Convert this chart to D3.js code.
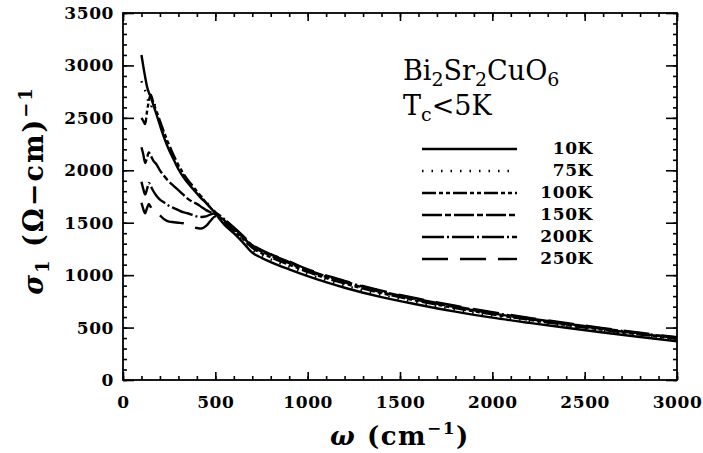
<!DOCTYPE html>
<html lang="en">
  <head>
    <meta charset="utf-8" />
    <title>Bi2Sr2CuO6 optical conductivity</title>
    <script src="https://cdn.jsdelivr.net/npm/d3@7"></script>
    <style>
      body {
        margin: 0;
        background: #fff;
      }

      svg {
        display: block;
      }

      .axis text,
      .legend text {
        font-family: "DejaVu Serif", serif;
        font-weight: bold;
        font-size: 17px;
        letter-spacing: 0.6px;
        fill: #000;
      }

      .axis line {
        stroke: #000;
        stroke-width: 1.6;
      }

      .axis path {
        display: none;
      }

      .frame {
        fill: none;
        stroke: #000;
        stroke-width: 1.8;
      }

      .curve {
        fill: none;
        stroke: #000;
        stroke-width: 2.4;
      }

      .label {
        font-family: "DejaVu Serif", serif;
        fill: #000;
      }
    </style>
  </head>

  <body>
    <svg id="chart"></svg>

    <script>
      // frequencies (cm^-1) shared by every curve
      const omega = [100, 110, 120, 130, 140, 150, 165, 180, 200, 225, 250, 275, 300, 325, 350, 375, 400, 425, 450, 475,
        500, 525, 550, 600, 650, 700, 750, 800, 900, 1000, 1200, 1400, 1600, 1800, 2000, 2200, 2400, 2600, 2800, 3000];

      // sigma_1 in (Ohm-cm)^-1
      const sigma10K = [3100, 2990, 2890, 2800, 2740, 2700, 2620, 2540, 2430, 2300, 2190, 2100, 2010, 1940, 1880, 1830, 1780, 1730, 1690, 1640,
        1590, 1530, 1480, 1400, 1310, 1215, 1165, 1125, 1055, 990, 880, 790, 718, 652, 595, 545, 498, 453, 410, 370];
      const sigma75K = [2850, 2800, 2760, 2700, 2640, 2600, 2660, 2560, 2460, 2330, 2220, 2120, 2030, 1960, 1900, 1850, 1800, 1750, 1700, 1650,
        1600, 1545, 1495, 1415, 1330, 1240, 1190, 1150, 1080, 1012, 902, 812, 738, 672, 613, 562, 513, 467, 424, 384];
      const sigma100K = [2500, 2470, 2440, 2560, 2660, 2720, 2640, 2570, 2470, 2350, 2240, 2140, 2050, 1975, 1910, 1855, 1800, 1745, 1690, 1640,
        1600, 1555, 1505, 1425, 1345, 1260, 1210, 1170, 1100, 1030, 920, 828, 753, 686, 626, 574, 524, 478, 434, 394];
      const sigma150K = [2220, 2150, 2070, 2120, 2170, 2140, 2090, 2060, 2000, 1940, 1890, 1850, 1810, 1770, 1730, 1700, 1680, 1650, 1620, 1600,
        1580, 1560, 1520, 1440, 1360, 1275, 1225, 1185, 1115, 1042, 932, 838, 762, 695, 635, 582, 532, 485, 441, 400];
      const sigma200K = [1890, 1820, 1770, 1820, 1880, 1850, 1800, 1760, 1720, 1690, 1660, 1640, 1620, 1600, 1590, 1575, 1560, 1555, 1560, 1580,
        1590, 1570, 1530, 1450, 1370, 1285, 1235, 1195, 1125, 1050, 940, 846, 769, 702, 642, 588, 538, 491, 446, 405];
      const sigma250K = [1690, 1630, 1590, 1640, 1680, 1650, 1610, 1600, 1570, 1530, 1510, 1505, 1500, 1495, 1480, 1460, 1450, 1445, 1470, 1520,
        1560, 1560, 1530, 1455, 1375, 1290, 1240, 1200, 1130, 1056, 946, 852, 775, 708, 647, 593, 543, 495, 450, 409];

      const temps = ["10K", "75K", "100K", "150K", "200K", "250K"];
      const series = [sigma10K, sigma75K, sigma100K, sigma150K, sigma200K, sigma250K];
      const dashes = ["none", "1.5,8", "14,3,4,3,4,3", "20,3,6,3", "22,3,2,3", "26,12"];

      const xTicks = [0, 500, 1000, 1500, 2000, 2500, 3000];
      const yTicks = [0, 500, 1000, 1500, 2000, 2500, 3000, 3500];

      const width = 703;
      const height = 453;
      const margin = { top: 13, right: 26, bottom: 73, left: 123 };

      const svg = d3.select("#chart").attr("width", width).attr("height", height);

      const x = d3.scaleLinear().domain([0, 3000]).range([margin.left, width - margin.right]);
      const y = d3.scaleLinear().domain([0, 3500]).range([height - margin.bottom, margin.top]);

      const xMinor = d3.range(0, 3001, 100);
      const yMinor = d3.range(0, 3501, 100);

      // minor ticks on all four sides
      svg.append("g").attr("class", "axis")
        .attr("transform", `translate(0,${y(0)})`)
        .call(d3.axisBottom(x).tickValues(xMinor).tickSize(-4).tickFormat(""));
      svg.append("g").attr("class", "axis")
        .attr("transform", `translate(0,${y(3500)})`)
        .call(d3.axisTop(x).tickValues(xMinor).tickSize(-4).tickFormat(""));
      svg.append("g").attr("class", "axis")
        .attr("transform", `translate(${x(0)},0)`)
        .call(d3.axisLeft(y).tickValues(yMinor).tickSize(-4).tickFormat(""));
      svg.append("g").attr("class", "axis")
        .attr("transform", `translate(${x(3000)},0)`)
        .call(d3.axisRight(y).tickValues(yMinor).tickSize(-4).tickFormat(""));

      // major ticks with labels
      svg.append("g").attr("class", "axis")
        .attr("transform", `translate(0,${y(0)})`)
        .call(d3.axisBottom(x).tickValues(xTicks).tickSize(-8).tickPadding(16).tickFormat(d3.format("d")));
      svg.append("g").attr("class", "axis")
        .attr("transform", `translate(0,${y(3500)})`)
        .call(d3.axisTop(x).tickValues(xTicks).tickSize(-8).tickFormat(""));
      svg.append("g").attr("class", "axis")
        .attr("transform", `translate(${x(0)},0)`)
        .call(d3.axisLeft(y).tickValues(yTicks).tickSize(-11).tickPadding(9).tickFormat(d3.format("d")));
      svg.append("g").attr("class", "axis")
        .attr("transform", `translate(${x(3000)},0)`)
        .call(d3.axisRight(y).tickValues(yTicks).tickSize(-11).tickFormat(""));

      svg.append("rect").attr("class", "frame")
        .attr("x", x(0)).attr("y", y(3500))
        .attr("width", x(3000) - x(0)).attr("height", y(0) - y(3500));

      // curves
      const line = d3.line()
        .x(d => x(d[0]))
        .y(d => y(d[1]))
        .curve(d3.curveMonotoneX);

      svg.append("g")
        .selectAll("path")
        .data(series)
        .join("path")
        .attr("class", "curve")
        .attr("stroke-dasharray", (d, i) => dashes[i])
        .attr("d", s => line(omega.map((w, i) => [w, s[i]])));

      // compound name and Tc
      const name = svg.append("text").attr("class", "label").attr("x", 403).attr("y", 80).style("font-size", "27px");
      [["Bi", 0], ["2", 1], ["Sr", 0], ["2", 1], ["CuO", 0], ["6", 1]].forEach(([t, sub], i, arr) => {
        const prev = i > 0 ? arr[i - 1][1] : 0;
        name.append("tspan")
          .attr("dy", sub === prev ? 0 : sub ? 6 : -6)
          .style("font-size", sub ? "19px" : "27px")
          .text(t);
      });
      const tc = svg.append("text").attr("class", "label").attr("x", 403).attr("y", 115).style("font-size", "27px");
      tc.append("tspan").text("T");
      tc.append("tspan").attr("dy", 6).style("font-size", "19px").text("c");
      tc.append("tspan").attr("dy", -6).text("<5K");

      // legend
      const legend = svg.append("g").attr("class", "legend");
      temps.forEach((t, i) => {
        const ly = 148 + i * 22;
        legend.append("line")
          .attr("class", "curve")
          .attr("x1", 422).attr("x2", 517)
          .attr("y1", ly + 1).attr("y2", ly + 1)
          .attr("stroke-dasharray", dashes[i]);
        legend.append("text")
          .attr("x", 593).attr("y", ly)
          .attr("dy", "0.36em")
          .attr("text-anchor", "end")
          .text(t);
      });

      // axis titles
      const xt = svg.append("text").attr("class", "label")
        .attr("x", (x(0) + x(3000)) / 2).attr("y", 445)
        .attr("text-anchor", "middle")
        .style("font-size", "26px").style("font-weight", "bold").style("letter-spacing", "1.5px");
      xt.append("tspan").style("font-style", "italic").text("ω");
      xt.append("tspan").text("  (cm");
      xt.append("tspan").attr("dy", -11).style("font-size", "17px").text("−1");
      xt.append("tspan").attr("dy", 11).text(")");

      const yt = svg.append("text").attr("class", "label")
        .attr("transform", `translate(43,${(y(0) + y(3500)) / 2 - 6}) rotate(-90)`)
        .attr("text-anchor", "middle")
        .style("font-size", "27px").style("font-weight", "bold").style("letter-spacing", "2px");
      yt.append("tspan").style("font-style", "italic").text("σ");
      yt.append("tspan").attr("dy", 6).style("font-size", "18px").text("1");
      yt.append("tspan").attr("dy", -6).text("  (Ω−cm)");
      yt.append("tspan").attr("dy", -11).style("font-size", "18px").text("−1");
    </script>
  </body>
</html>
